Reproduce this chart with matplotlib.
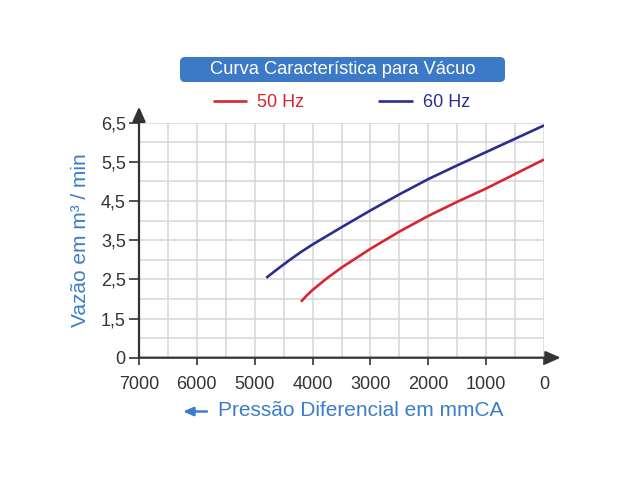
import numpy as np
import matplotlib
matplotlib.use('Agg')
import matplotlib.pyplot as plt
from matplotlib.patches import FancyBboxPatch

plt.rcParams['font.family'] = ['Liberation Sans', 'DejaVu Sans']

# ---- data ----
pressure_50 = [4200, 4100, 4000, 3750, 3500, 3000, 2500, 2000, 1500, 1000, 500, 0]
flow_50 = [1.93, 2.09, 2.23, 2.53, 2.80, 3.28, 3.72, 4.12, 4.48, 4.82, 5.19, 5.56]
pressure_60 = [4800, 4600, 4400, 4200, 4000, 3500, 3000, 2500, 2000, 1500, 1000, 500, 0]
flow_60 = [2.54, 2.77, 2.99, 3.20, 3.39, 3.83, 4.26, 4.67, 5.06, 5.41, 5.75, 6.09, 6.43]
series_labels = ['50 Hz', '60 Hz']
x_ticks = [7000, 6000, 5000, 4000, 3000, 2000, 1000, 0]
x_grid = [6500, 5500, 4500, 3500, 2500, 1500, 500]
y_ticks = [0, 1.5, 2.5, 3.5, 4.5, 5.5, 6.5]
y_tick_labels = ['0', '1,5', '2,5', '3,5', '4,5', '5,5', '6,5']
y_grid = [0.75, 2, 3, 4, 5, 6]
title = 'Curva Característica para Vácuo'
y_label = 'Vazão em m³ / min'
x_label = 'Pressão Diferencial em mmCA'

RED = '#d6262f'
BLUE = '#2b2e8c'
LABEL_BLUE = '#3b7dcc'
BOX_BLUE = '#3c79c6'
AXIS = '#333333'


def fwd(y):
    y = np.asarray(y, dtype=float)
    return np.where(y < 1.5, y / 1.5, y - 0.5)


def inv(p):
    p = np.asarray(p, dtype=float)
    return np.where(p < 1, p * 1.5, p + 0.5)


fig = plt.figure(figsize=(6.4, 4.8), dpi=100)
ax = fig.add_axes([139 / 640, 1 - 357.7 / 480, 405 / 640, 235 / 480])
ax.set_yscale('function', functions=(fwd, inv))
ax.set_xlim(7000, 0)
ax.set_ylim(0, 6.5)

ax.plot(pressure_50, flow_50, color=RED, lw=1.9, label=series_labels[0],
        solid_capstyle='butt', solid_joinstyle='round', zorder=3)
ax.plot(pressure_60, flow_60, color=BLUE, lw=1.9, label=series_labels[1],
        solid_capstyle='butt', solid_joinstyle='round', zorder=3)

ax.set_xticks(x_ticks)
ax.set_xticks(x_grid, minor=True)
ax.set_yticks(y_ticks)
ax.set_yticklabels(y_tick_labels)
ax.set_yticks(y_grid, minor=True)
ax.tick_params(which='minor', length=0)
ax.tick_params(axis='x', which='major', length=5, width=1.2, color=AXIS, pad=8,
               labelsize=13, labelcolor='#333333', direction='out')
ax.tick_params(axis='y', which='major', length=7, width=1.2, color=AXIS, pad=2.5,
               labelsize=13, labelcolor='#333333', direction='out')
ax.grid(which='both', color='#d6d6d6', lw=1.1)
ax.set_axisbelow(True)
for s in ax.spines.values():
    s.set_visible(False)

arrow_kw = dict(arrowstyle='-|>,head_length=0.45,head_width=0.2', color=AXIS, lw=1.6,
                shrinkA=0, shrinkB=0, mutation_scale=20)
ax.annotate('', xy=(0, 1.068), xytext=(0, 0), xycoords='axes fraction',
            arrowprops=arrow_kw, annotation_clip=False)
ax.annotate('', xy=(1.041, 0), xytext=(0, 0), xycoords='axes fraction',
            arrowprops=arrow_kw, annotation_clip=False)

# legend
leg = ax.legend(loc='center', bbox_to_anchor=(341.5 / 640, 1 - 102.5 / 480),
                bbox_transform=fig.transFigure, ncol=2, frameon=False, fontsize=13,
                handlelength=1.9, handletextpad=0.55, columnspacing=4.1)
for txt, ln in zip(leg.get_texts(), leg.get_lines()):
    txt.set_color(ln.get_color())

# title box
box = FancyBboxPatch((1.80, (480 - 82) / 100), 3.25, 0.25,
                     boxstyle='round,pad=0,rounding_size=0.05',
                     transform=fig.dpi_scale_trans, facecolor=BOX_BLUE,
                     edgecolor='none')
fig.patches.append(box)
fig.text(342.5 / 640, 1 - 69.5 / 480, title, color='white', fontsize=13.2,
         ha='center', va='center')

# axis labels
fig.text(80 / 640, 1 - 240 / 480, y_label, color=LABEL_BLUE, fontsize=15,
         rotation=90, ha='center', va='center')
fig.text(218 / 640, 1 - 411 / 480, x_label, color=LABEL_BLUE, fontsize=15,
         ha='left', va='center')
ax.annotate('', xy=(183, 480 - 411.5), xytext=(207, 480 - 411.5),
            xycoords='figure pixels',
            arrowprops=dict(arrowstyle='-|>,head_length=0.3,head_width=0.13',
                            color=LABEL_BLUE, lw=1.8, shrinkA=0, shrinkB=0,
                            mutation_scale=20),
            annotation_clip=False)

fig.savefig('out.png', dpi=100)
